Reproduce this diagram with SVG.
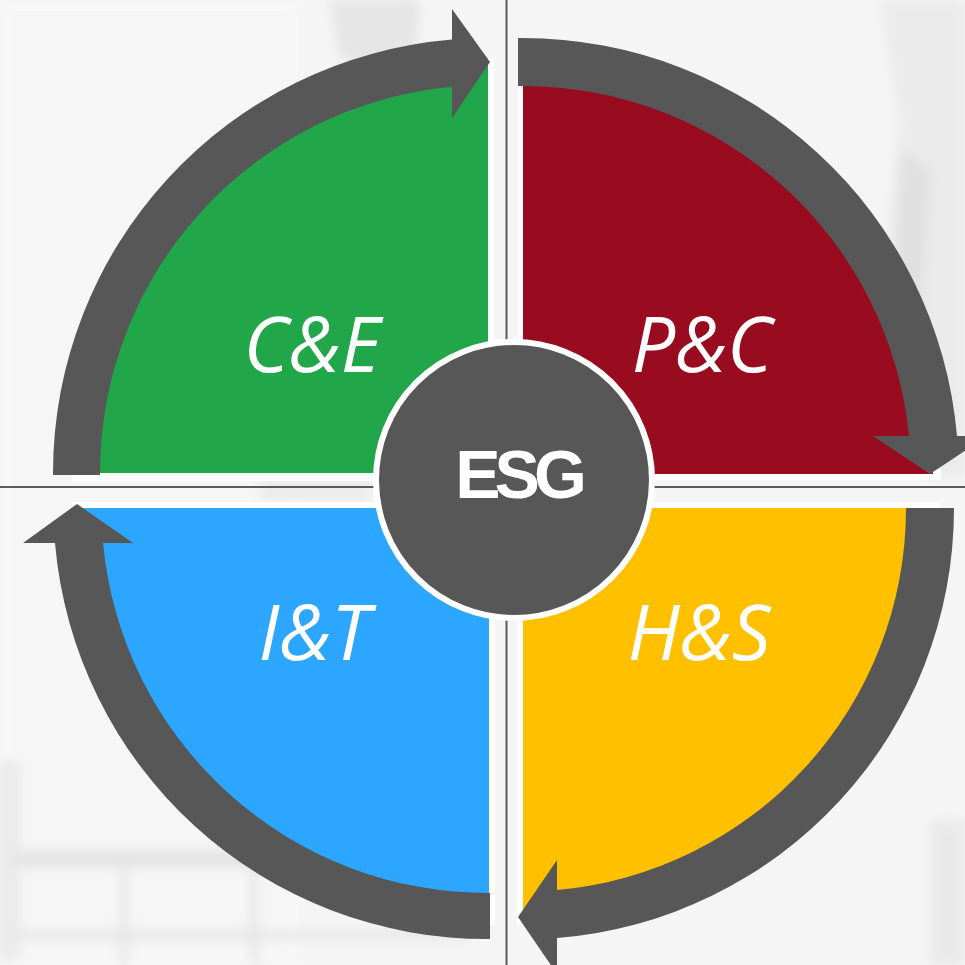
<svg xmlns="http://www.w3.org/2000/svg" width="965" height="965" viewBox="0 0 965 965">
  <defs>
    <filter id="blur" x="-20%" y="-20%" width="140%" height="140%">
      <feGaussianBlur stdDeviation="6"/>
    </filter>
    <style>
      .band { fill: #575757; }
      .under { fill: #ffffff; }
      .lbl { font-family: "Open Sans", "Noto Sans", "Liberation Sans", sans-serif; font-style: italic; font-weight: 400; font-size: 77px; fill: #ffffff; text-anchor: middle; }
      .axis { stroke: #5a5a5a; stroke-width: 2; fill: none; }
    </style>
  </defs>

  <!-- background (faded photo) -->
  <rect x="0" y="0" width="965" height="965" fill="#f5f5f5"/>
  <g filter="url(#blur)" opacity="0.45">
    <rect x="0" y="0" width="300" height="965" fill="#f9f9f9"/>
    <path d="M330 0 L420 0 L415 70 L340 60 Z" fill="#d2d2d2"/>
    <path d="M880 0 L965 0 L965 480 L905 470 L880 300 L900 120 Z" fill="#dedede"/>
    <path d="M900 150 L930 170 L920 330 L895 320 Z" fill="#c8c8c8"/>
    <rect x="0" y="850" width="470" height="18" fill="#cfcfcf"/>
    <rect x="0" y="930" width="470" height="10" fill="#d6d6d6"/>
    <rect x="120" y="870" width="8" height="95" fill="#d0d0d0"/>
    <rect x="250" y="870" width="8" height="95" fill="#d0d0d0"/>
    <rect x="0" y="760" width="20" height="200" fill="#dcdcdc"/>
    <rect x="930" y="820" width="35" height="145" fill="#dadada"/>
    <rect x="260" y="478" width="110" height="22" fill="#dedede"/>
  </g>

  <!-- axis lines -->
  <g id="axes">
    <line class="axis" x1="506.5" y1="0" x2="506.5" y2="965"/>
    <line class="axis" x1="0" y1="487" x2="965" y2="487"/>
  </g>

  <!-- white underlays -->
  <g id="underlays">
    <path class="under" d="M494 481 L72 481 A423 423 0 0 1 494 58 Z"/>
    <path class="under" d="M518 480 L518 57 A423 423 0 0 1 941 480 Z"/>
    <path class="under" d="M517 502 L940 502 A423 423 0 0 1 517 925 Z"/>
    <path class="under" d="M495 502 L495 925 A423 423 0 0 1 72 502 Z"/>
  </g>

  <!-- quadrants -->
  <g id="node-ce">
    <path d="M488 473 L78 473 A410 410 0 0 1 488 63 Z" fill="#21a74a"/>
  </g>
  <g id="node-pc">
    <path d="M523 474 L523 64 A410 410 0 0 1 933 474 Z" fill="#990c1f"/>
  </g>
  <g id="node-hs">
    <path d="M523 508 L930 508 A407 407 0 0 1 523 915 Z" fill="#ffc000"/>
  </g>
  <g id="node-it">
    <path d="M489 508 L489 916 A408 408 0 0 1 81 508 Z" fill="#2ca6fe"/>
  </g>

  <!-- connectors: circular arrows -->
  <g id="connectors">
    <path class="band" d="M53 475 L53 473 A435 435 0 0 1 452 39.5 L452 9 L490 62 L452 118 L452 86.7 A388 388 0 0 0 100 473 L100 475 Z"/>
    <path class="band" d="M518 38 L523 38 A436 436 0 0 1 957 436 L987 436 L930 474 L873 436 L909 436 A388 388 0 0 0 523 86 L518 86 Z"/>
    <path class="band" d="M954 508 A431 431 0 0 1 557 938 L557 974 L518 917 L557 860 L557 890 A383 383 0 0 0 906 508 Z"/>
    <path class="band" d="M490 939 A433 433 0 0 1 55 543 L23 543 L77 504 L133 543 L103 543 A386 386 0 0 0 490 893 Z"/>
  </g>

  <!-- labels -->
  <g id="labels">
    <text class="lbl" x="312" y="372">C&amp;E</text>
    <text class="lbl" x="702" y="372">P&amp;C</text>
    <text class="lbl" x="314" y="660">I&amp;T</text>
    <text class="lbl" x="699" y="660">H&amp;S</text>
  </g>

  <!-- center -->
  <g id="node-esg">
    <circle cx="514" cy="480" r="138" fill="#575757" stroke="#ffffff" stroke-width="6"/>
    <text x="518" y="498" font-family="Liberation Sans, Arial, sans-serif" font-weight="700" font-size="68" letter-spacing="-6" fill="#ffffff" text-anchor="middle">ESG</text>
  </g>
</svg>
